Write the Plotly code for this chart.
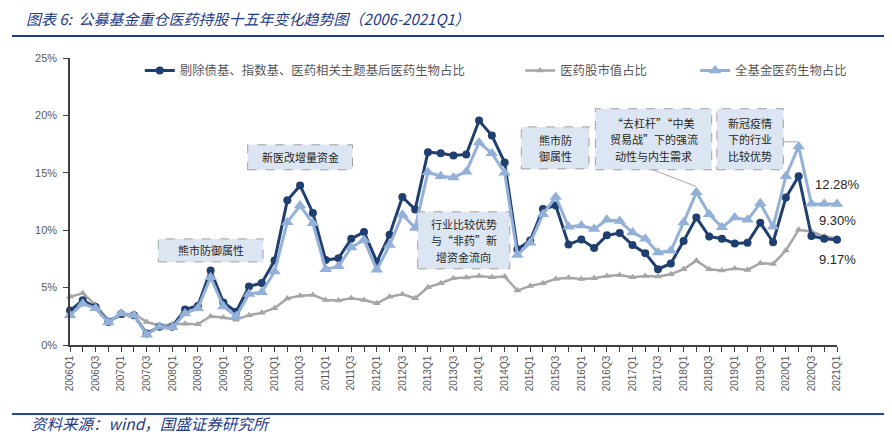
import plotly.graph_objects as go

# ---------------- data ----------------
quarters = [f"{y}Q{q}" for y in range(2006, 2022) for q in range(1, 5)][:61]
tick_labels = [q if i % 2 == 0 else "" for i, q in enumerate(quarters)]

name_dark = "剔除债基、指数基、医药相关主题基后医药生物占比"
name_gray = "医药股市值占比"
name_light = "全基金医药生物占比"

dark = [3.0, 3.9, 3.3, 2.0, 2.7, 2.6, 1.0, 1.6, 1.6, 3.1,
        3.4, 6.5, 3.7, 2.9, 5.1, 5.4, 7.35, 12.6, 13.9, 11.5,
        7.4, 7.55, 9.25, 9.85, 7.25, 9.6, 12.9, 11.8, 16.8, 16.7,
        16.5, 16.6, 19.55, 18.25, 15.9, 8.35, 9.1, 11.85, 12.15, 8.75,
        9.2, 8.45, 9.55, 9.75, 8.7, 8.0, 6.6, 7.1, 9.05, 11.1,
        9.45, 9.25, 8.85, 8.9, 10.65, 8.95, 12.85, 14.7, 9.5, 9.25,
        9.17]

light = [2.6, 3.6, 3.2, 1.95, 2.75, 2.6, 0.9, 1.6, 1.55, 2.75,
         3.2, 5.9, 3.35, 2.5, 4.45, 4.6, 6.4, 10.7, 12.15, 10.6,
         6.6, 6.85, 8.5, 9.15, 6.55, 8.7, 11.35, 10.2, 15.05, 14.7,
         14.6, 15.1, 17.65, 16.7, 15.0, 7.85, 8.9, 11.4, 12.9, 10.3,
         10.4, 10.1, 10.9, 10.8, 9.8, 9.25, 8.05, 8.2, 10.67, 13.3,
         11.4, 10.26, 11.1, 10.9, 12.35, 10.3, 14.7, 17.3, 12.3, 12.3,
         12.28]

gray = [4.2, 4.5, 3.5, 2.2, 2.5, 2.75, 2.0, 1.7, 1.8, 1.85,
        1.8, 2.5, 2.4, 2.2, 2.6, 2.8, 3.2, 4.05, 4.3, 4.36,
        3.92, 3.87, 4.07, 3.92, 3.63, 4.2, 4.42, 4.07, 5.03, 5.38,
        5.81, 5.87, 6.02, 5.9, 5.96, 4.74, 5.15, 5.38, 5.76, 5.85,
        5.75, 5.81, 6.02, 6.1, 5.9, 6.02, 5.96, 6.16, 6.6, 7.35,
        6.6, 6.48, 6.66, 6.54, 7.12, 7.06, 8.23, 10.03, 9.88, 9.45,
        9.30]

end_labels = ["12.28%", "9.30%", "9.17%"]

# annotation boxes: (x0, x1, y0, y1) in data coords and text lines
boxes = [
    ((6.9, 15.1, 7.24, 9.24), ["熊市防御属性"]),
    ((13.9, 22.1, 15.26, 17.44), ["新医改增量资金"]),
    ((27.2, 34.4, 6.63, 11.6), ["行业比较优势", "与“非药”新", "增资金流向"]),
    ((35.3, 40.6, 15.34, 19.0), ["熊市防", "御属性"]),
    ((41.1, 50.2, 15.26, 20.58), ["“去杠杆”“中美", "贸易战”下的强流", "动性与内生需求"]),
    ((50.6, 55.8, 15.26, 20.58), ["新冠疫情", "下的行业", "比较优势"]),
]

C_DARK = "#1f3f70"
C_LIGHT = "#93b1d8"
C_GRAY = "#a6a6a6"
CJK = "Noto Sans CJK SC"

fig = go.Figure()
fig.add_trace(go.Scatter(
    x=quarters, y=gray, name=name_gray, mode="lines+markers",
    line=dict(color=C_GRAY, width=2.5),
    marker=dict(symbol="triangle-up", size=7, color=C_GRAY),
    cliponaxis=False, legend="legend2"))
fig.add_trace(go.Scatter(
    x=quarters, y=dark, name=name_dark, mode="lines+markers",
    line=dict(color=C_DARK, width=3),
    marker=dict(symbol="circle", size=8, color=C_DARK),
    cliponaxis=False, legend="legend"))
fig.add_trace(go.Scatter(
    x=quarters, y=light, name=name_light, mode="lines+markers",
    line=dict(color=C_LIGHT, width=3),
    marker=dict(symbol="triangle-up", size=11, color=C_LIGHT),
    cliponaxis=False, legend="legend3"))

shapes = []
annotations = []
for (x0, x1, y0, y1), lines in boxes:
    shapes.append(dict(type="rect", xref="x", yref="y", x0=x0, x1=x1, y0=y0, y1=y1,
                       fillcolor="#dce6f2", line=dict(color="#a0a0a0", width=1, dash="dash"),
                       layer="above"))
    n = len(lines)
    cx = (x0 + x1) / 2
    cy = (y0 + y1) / 2
    step = 1.42
    for k, t in enumerate(lines):
        annotations.append(dict(x=cx, y=cy + (n - 1) / 2 * step - k * step, xref="x", yref="y",
                                text=t, showarrow=False,
                                font=dict(family=CJK, size=11, color="#262626")))

# connector lines
shapes.append(dict(type="line", xref="x", yref="y", x0=45.6, y0=15.26, x1=49.0, y1=13.8,
                   line=dict(color="#a6a6a6", width=1)))
shapes.append(dict(type="line", xref="x", yref="y", x0=55.8, y0=17.7, x1=56.9, y1=17.7,
                   line=dict(color="#a6a6a6", width=1)))

# end value labels
for t, yv in zip(end_labels, [13.95, 10.81, 7.41]):
    annotations.append(dict(x=60, y=yv, xref="x", yref="y", text=t, showarrow=False,
                            font=dict(family="Liberation Sans", size=13, color="#262626")))

# title / source / rules
annotations.append(dict(x=-0.06, y=1.136, xref="paper", yref="paper", xanchor="left",
                        yanchor="middle", showarrow=False,
                        text="<i>图表 6:  公募基金重仓医药持股十五年变化趋势图（2006-2021Q1）</i>",
                        font=dict(family=CJK, size=15, color="#1f3c88")))
annotations.append(dict(x=-0.053, y=-0.2718, xref="paper", yref="paper", xanchor="left",
                        yanchor="middle", showarrow=False,
                        text="<i>资料来源：wind，国盛证券研究所</i>",
                        font=dict(family=CJK, size=15.5, color="#1f3c88")))
shapes.append(dict(type="line", xref="paper", yref="paper", x0=-0.0756, x1=1.065, y0=1.0767, y1=1.0767,
                   line=dict(color="#1f3c94", width=2)))
shapes.append(dict(type="line", xref="paper", yref="paper", x0=-0.0756, x1=1.065, y0=-0.2404, y1=-0.2404,
                   line=dict(color="#2447a0", width=2)))

leg_common = dict(orientation="h", yanchor="middle", y=0.955, xanchor="left",
                  bgcolor="rgba(0,0,0,0)", font=dict(family=CJK, size=12.4, color="#595959"))

fig.update_layout(
    width=884, height=426,
    margin=dict(l=62, r=55, t=50, b=89),
    plot_bgcolor="white", paper_bgcolor="white",
    showlegend=True,
    legend=dict(leg_common, x=0.091),
    legend2=dict(leg_common, x=0.587),
    legend3=dict(leg_common, x=0.815),
    shapes=shapes, annotations=annotations,
    xaxis=dict(type="category", range=[0, 60], tickmode="array",
               tickvals=quarters, ticktext=tick_labels, tickangle=-90,
               showline=True, linecolor="#404040", linewidth=1.5,
               ticks="outside", ticklen=5, tickcolor="#404040", showgrid=False,
               automargin=False,
               tickfont=dict(family="Liberation Sans", size=10, color="#595959")),
    yaxis=dict(range=[0, 25], dtick=5, ticksuffix="%",
               showline=True, linecolor="#404040", linewidth=1.5,
               ticks="outside", ticklen=5, tickcolor="#404040", showgrid=False,
               zeroline=False, ticklabelstandoff=4, automargin=False,
               tickfont=dict(family="Liberation Sans", size=11, color="#595959")),
)

fig.write_html("out.html")
